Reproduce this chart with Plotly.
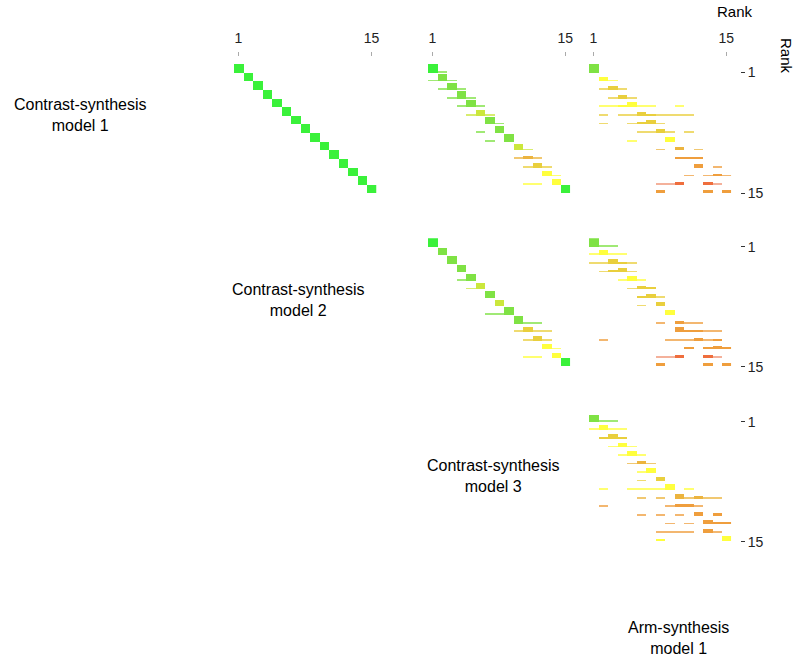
import plotly.graph_objects as go

W, H = 799, 658
T = 0.2  # thin bar (small probability)

# colour keys
colors = {
    "G": "#2ff02f",  # bright green
    "g": "#78e03a",  # green
    "yg": "#c8e632",  # yellow-green
    "Y": "#ffff33",  # bright yellow
    "y": "#e8cc33",  # dark yellow
    "o": "#ebb035",  # orange-yellow
    "O": "#ee9933",  # orange
    "R": "#ee6633",  # red-orange
    "s": "#f09070",  # salmon
}

ranks = list(range(1, 16))
tick_ranks = [1, 15]

# (row rank, column rank, probability height, colour key)
panel1 = [(r, r, 1.0, "G") for r in ranks]

panel2 = [
    (1, 1, 1.0, "G"), (1, 2, T, "g"),
    (2, 2, .85, "g"), (2, 1, T, "g"), (2, 3, T, "g"),
    (3, 3, .85, "g"), (3, 2, T, "g"), (3, 4, T, "g"),
    (4, 4, .85, "g"), (4, 3, T, "g"), (4, 5, T, "g"),
    (5, 5, .85, "g"), (5, 4, T, "g"), (5, 6, T, "g"),
    (6, 6, .7, "yg"), (6, 5, T, "yg"), (6, 7, T, "yg"),
    (7, 7, .85, "g"), (7, 8, T, "g"),
    (8, 8, .85, "g"), (8, 6, T, "g"),
    (9, 9, .85, "g"), (9, 7, T, "g"),
    (10, 10, .7, "yg"), (10, 11, T, "yg"),
    (11, 11, .35, "o"), (11, 10, T, "o"), (11, 12, T, "o"),
    (12, 12, .55, "y"), (12, 11, T, "y"), (12, 13, T, "y"),
    (13, 13, .6, "Y"), (13, 14, .2, "Y"),
    (14, 14, .65, "Y"), (14, 11, T, "Y"), (14, 12, T, "Y"),
    (15, 15, 1.0, "G"),
]

panel3 = [
    (1, 1, 1.0, "g"),
    (2, 2, .5, "Y"), (2, 3, T, "Y"),
    (3, 3, .45, "y"), (3, 2, T, "y"), (3, 4, T, "y"),
    (4, 4, .45, "y"), (4, 3, T, "y"), (4, 5, T, "y"),
    (5, 5, .65, "Y"), (5, 2, T, "Y"), (5, 3, T, "Y"), (5, 4, .25, "Y"),
    (5, 6, T, "Y"), (5, 7, T, "Y"), (5, 10, T, "Y"),
    (6, 6, .45, "y"), (6, 2, T, "y"), (6, 4, T, "y"), (6, 5, T, "y"),
    (6, 7, .25, "y"), (6, 8, T, "y"), (6, 9, T, "y"), (6, 10, T, "y"), (6, 11, T, "y"),
    (7, 7, .5, "y"), (7, 6, .25, "y"), (7, 5, T, "y"), (7, 8, T, "y"), (7, 2, T, "y"),
    (8, 8, .45, "y"), (8, 6, T, "y"), (8, 7, T, "y"), (8, 9, T, "y"), (8, 11, T, "y"),
    (9, 9, .6, "Y"), (9, 5, T, "Y"),
    (10, 10, .35, "o"), (10, 8, T, "o"), (10, 12, T, "o"),
    (11, 10, .27, "O"), (11, 11, .27, "O"), (11, 12, .27, "O"),
    (12, 12, .4, "O"), (12, 14, .2, "O"),
    (13, 11, T, "O"), (13, 13, T, "O"), (13, 14, .3, "O"), (13, 15, T, "O"),
    (14, 8, T, "s"), (14, 9, T, "s"), (14, 10, .3, "R"), (14, 13, .3, "R"), (14, 14, T, "s"),
    (15, 8, .38, "O"), (15, 13, .38, "O"), (15, 15, .38, "O"),
]

panel4 = [
    (1, 1, 1.0, "G"),
    (2, 2, .85, "g"),
    (3, 3, .85, "g"),
    (4, 4, .85, "g"),
    (5, 5, .8, "g"), (5, 4, T, "g"),
    (6, 6, .75, "yg"), (6, 5, T, "yg"),
    (7, 7, .8, "g"),
    (8, 8, .75, "yg"),
    (9, 9, .9, "g"), (9, 7, T, "g"), (9, 8, T, "g"),
    (10, 10, .85, "g"), (10, 11, T, "g"), (10, 12, T, "g"),
    (11, 11, .55, "y"), (11, 10, T, "y"), (11, 12, T, "y"), (11, 13, T, "y"),
    (12, 12, .55, "y"), (12, 11, T, "y"), (12, 13, T, "y"),
    (13, 13, .65, "Y"), (13, 14, T, "Y"),
    (14, 14, .6, "Y"), (14, 11, T, "Y"), (14, 12, T, "Y"),
    (15, 15, 1.0, "G"),
]

panel5 = [
    (1, 1, .95, "g"), (1, 2, T, "g"), (1, 3, T, "g"),
    (2, 2, .6, "Y"), (2, 1, T, "Y"), (2, 3, T, "Y"), (2, 4, T, "Y"),
    (3, 3, .55, "y"), (3, 4, .25, "y"), (3, 1, T, "y"), (3, 2, T, "y"), (3, 5, T, "y"),
    (4, 4, .55, "y"), (4, 3, .25, "y"), (4, 2, T, "y"), (4, 5, T, "y"),
    (5, 5, .55, "Y"), (5, 4, T, "Y"), (5, 6, T, "Y"),
    (6, 6, .45, "y"), (6, 5, T, "y"), (6, 7, .25, "y"),
    (7, 7, .45, "y"), (7, 6, .22, "y"), (7, 8, T, "y"),
    (8, 8, .5, "y"), (8, 6, T, "y"),
    (9, 9, .6, "Y"),
    (10, 10, .3, "O"), (10, 8, T, "O"), (10, 11, T, "O"), (10, 12, T, "O"),
    (11, 10, .55, "O"), (11, 11, .25, "O"), (11, 12, .25, "O"), (11, 13, T, "O"), (11, 14, T, "O"),
    (12, 2, T, "O"), (12, 9, T, "O"), (12, 10, T, "O"), (12, 11, T, "O"),
    (12, 12, .35, "O"), (12, 13, T, "O"), (12, 14, .25, "O"),
    (13, 11, .25, "O"), (13, 13, .25, "O"), (13, 14, .38, "O"), (13, 15, .25, "O"),
    (14, 8, T, "s"), (14, 9, T, "s"), (14, 10, .3, "R"), (14, 13, .3, "R"), (14, 14, T, "s"),
    (15, 8, .38, "O"), (15, 13, .38, "O"), (15, 15, .38, "O"),
]

panel6 = [
    (1, 1, .8, "g"), (1, 2, T, "g"), (1, 3, T, "g"),
    (2, 2, .55, "Y"), (2, 1, T, "Y"), (2, 3, T, "Y"), (2, 4, T, "Y"),
    (3, 3, .6, "y"), (3, 2, .22, "y"), (3, 4, .22, "y"),
    (4, 4, .55, "Y"), (4, 3, T, "Y"), (4, 5, T, "Y"),
    (5, 5, .6, "Y"), (5, 4, T, "Y"), (5, 6, T, "Y"),
    (6, 6, .4, "o"), (6, 5, T, "o"), (6, 7, T, "o"),
    (7, 7, .55, "Y"), (7, 6, T, "Y"),
    (8, 8, .5, "y"), (8, 6, T, "y"),
    (9, 9, .75, "Y"), (9, 2, T, "Y"), (9, 5, T, "Y"), (9, 6, T, "Y"),
    (9, 7, T, "Y"), (9, 8, T, "Y"), (9, 11, T, "Y"),
    (10, 10, .5, "o"), (10, 12, .25, "o"), (10, 11, T, "o"), (10, 13, T, "o"),
    (10, 14, T, "o"), (10, 6, T, "o"), (10, 8, T, "o"),
    (11, 10, .4, "O"), (11, 11, .4, "O"), (11, 9, T, "O"), (11, 12, T, "O"), (11, 2, T, "O"),
    (12, 6, T, "O"), (12, 8, T, "O"), (12, 10, T, "O"), (12, 12, .45, "O"), (12, 14, .3, "O"),
    (13, 9, T, "O"), (13, 11, T, "O"), (13, 13, .45, "O"), (13, 14, .3, "O"), (13, 15, .3, "O"),
    (14, 8, T, "O"), (14, 9, T, "O"), (14, 10, T, "O"), (14, 11, T, "O"),
    (14, 13, .4, "O"), (14, 14, T, "O"),
    (15, 8, .25, "Y"), (15, 15, .62, "Y"),
]

model_labels = [
    "Contrast-synthesis<br>model 1",
    "Contrast-synthesis<br>model 2",
    "Contrast-synthesis<br>model 3",
    "Arm-synthesis<br>model 1",
]

# layout geometry in pixels
col_px = [(233.75, 376.25), (427.55, 570.05), (588.55, 731.05)]
row_px = [(63.5, 193.0), (238.3, 366.7), (413.3, 541.7)]
panels = [  # (data, row index, col index)
    (panel1, 0, 0), (panel2, 0, 1), (panel3, 0, 2),
    (panel4, 1, 1), (panel5, 1, 2), (panel6, 2, 2),
]


def rgba(hexc, a):
    h = hexc.lstrip("#")
    r, g, b = int(h[0:2], 16), int(h[2:4], 16), int(h[4:6], 16)
    return f"rgba({r},{g},{b},{a})"


tick_font = dict(size=14, color="#222222", family="Liberation Sans, Arial")

fig = go.Figure()
layout = {}
for k, (data, ri, ci) in enumerate(panels, start=1):
    xs = [d[1] for d in data]
    hs = [-d[2] for d in data]
    bases = [d[0] for d in data]
    cs = [rgba(colors[d[3]], 0.7 if d[2] <= 0.2 else 0.95) for d in data]
    sfx = "" if k == 1 else str(k)
    fig.add_trace(go.Bar(
        x=xs, y=hs, base=bases, width=1.0,
        marker=dict(color=cs, line=dict(width=0)),
        xaxis="x" + sfx, yaxis="y" + sfx, hoverinfo="skip",
    ))
    x0, x1 = col_px[ci]
    y0, y1 = row_px[ri]
    xa = dict(domain=[x0 / W, x1 / W], range=[0.5, 15.5], showgrid=False,
              zeroline=False, showline=False, showticklabels=False, ticks="",
              automargin=False)
    ya = dict(domain=[1 - y1 / H, 1 - y0 / H], range=[15, 0], showgrid=False,
              zeroline=False, showline=False, showticklabels=False, ticks="",
              automargin=False)
    if ri == 0:
        xa.update(side="top", anchor="free", position=1 - 55.5 / H,
                  tickvals=tick_ranks, ticktext=[str(t) for t in tick_ranks],
                  showticklabels=True, ticks="outside", ticklen=4, tickwidth=1,
                  tickcolor="#aaaaaa", ticklabelstandoff=3, tickfont=tick_font)
    else:
        xa.update(anchor="y" + sfx)
    if ci == 2:
        ya.update(side="right", anchor="free", position=740 / W,
                  tickvals=tick_ranks, ticktext=[str(t) for t in tick_ranks],
                  showticklabels=True, ticks="outside", ticklen=4, tickwidth=1,
                  tickcolor="#333333", tickfont=tick_font)
    else:
        ya.update(anchor="x" + sfx)
    layout["xaxis" + sfx] = xa
    layout["yaxis" + sfx] = ya

fig.update_layout(**layout)

font_lab = dict(size=16, color="#000000", family="Liberation Sans, Arial")
label_pos = [(80, 115), (298, 300), (493, 476), (678, 638)]
for txt, (px, py) in zip(model_labels, label_pos):
    fig.add_annotation(text=txt, x=px / W, y=1 - py / H, xref="paper", yref="paper",
                       showarrow=False, font=font_lab, align="center",
                       xanchor="center", yanchor="middle")

font_rank = dict(size=15, color="#000000", family="Liberation Sans, Arial")
fig.add_annotation(text="Rank", x=735 / W, y=1 - 12 / H, xref="paper", yref="paper",
                   showarrow=False, font=font_rank, xanchor="center", yanchor="middle")
fig.add_annotation(text="Rank", x=787 / W, y=1 - 56 / H, xref="paper", yref="paper",
                   showarrow=False, font=font_rank, textangle=90,
                   xanchor="center", yanchor="middle")

fig.update_layout(width=W, height=H, autosize=False,
                  margin=dict(l=0, r=0, t=0, b=0, pad=0, autoexpand=False),
                  paper_bgcolor="white", plot_bgcolor="white",
                  showlegend=False, barmode="overlay", bargap=0)

fig.write_html("out.html",
               config={"displayModeBar": False, "responsive": False},
               post_script="document.body.style.margin='0';document.body.style.overflow='hidden';")
